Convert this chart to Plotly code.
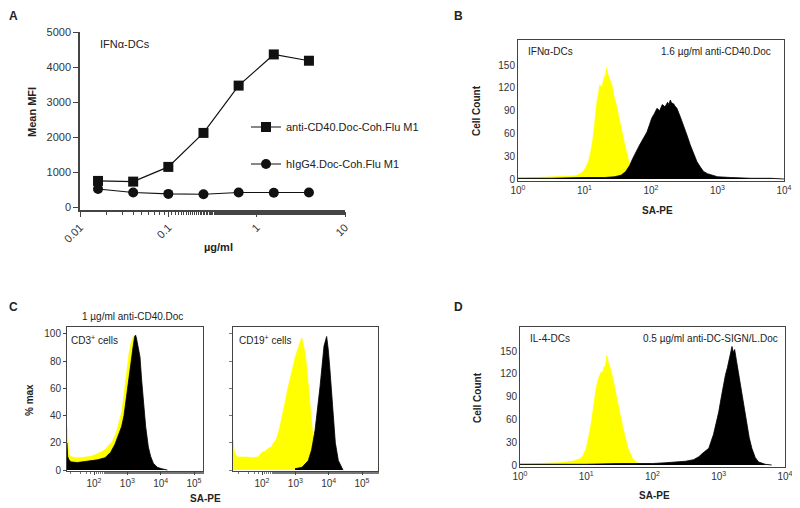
import plotly.graph_objects as go

# The page body has an 8px default margin, so the figure is drawn 8px in from
# the top-left corner; size it to fill the rest of the 800x508 window.
PAGE_OFF = 8
W, H = 800 - PAGE_OFF, 508 - PAGE_OFF
FONT = "Liberation Sans, Arial, sans-serif"
TXT = "#222222"


def fx(p):
    return (p - PAGE_OFF) / W


def fy(p):
    return 1 - (p - PAGE_OFF) / H


# ---------------- Panel A: titration ----------------
conc_ug_ml = [0.016, 0.04, 0.1, 0.25, 0.625, 1.5625, 3.906]
mfi_anti_cd40 = [750, 730, 1150, 2120, 3470, 4360, 4180]
mfi_higg4 = [520, 420, 380, 370, 420, 410, 420]
a_xtick_vals = [0.01, 0.1, 1, 10]
a_xtick_text = ["0.01", "0.1", "1", "10"]
a_ytick_vals = [0, 1000, 2000, 3000, 4000, 5000]

# ---------------- Panel B: IFNa-DCs histograms (log10 SA-PE, cell count) ----------------
b_yel_log = [0.0, 0.3, 0.5, 0.7, 0.85, 0.92, 0.98, 1.02, 1.06, 1.10, 1.13, 1.16, 1.18, 1.21, 1.23,
             1.26, 1.28, 1.30, 1.31, 1.33, 1.35, 1.37, 1.39, 1.41, 1.44, 1.48, 1.52, 1.56, 1.60,
             1.63, 1.66, 1.68, 1.72, 1.76, 1.80, 1.90, 2.00]
b_yel_cnt = [1, 2, 2, 3, 4, 6, 10, 15, 23, 38, 54, 78, 97, 112, 124,
             120, 130, 135, 128, 146, 138, 134, 130, 124, 110, 97, 80, 62, 47,
             36, 25, 18, 10, 5, 2, 1, 0]
b_blk_log = [0.0, 0.5, 1.0, 1.3, 1.45, 1.55, 1.62, 1.68, 1.72, 1.76, 1.80, 1.83, 1.88, 1.94, 1.98,
             2.01, 2.05, 2.09, 2.13, 2.17, 2.21, 2.25, 2.27, 2.29, 2.31, 2.34, 2.36, 2.39, 2.44,
             2.49, 2.54, 2.59, 2.64, 2.69, 2.74, 2.79, 2.85, 2.92, 3.00, 3.20, 3.50, 3.80, 4.00]
b_blk_cnt = [1, 1, 2, 2, 3, 5, 10, 18, 26, 34, 40, 45, 53, 62, 72,
             80, 86, 93, 90, 98, 95, 101, 98, 104, 100, 99, 96, 93, 82,
             71, 58, 45, 33, 23, 16, 10, 7, 5, 3, 2, 1, 1, 0]

# ---------------- Panel C: % max histograms ----------------
c3_yel_log = [1.19, 1.21, 1.24, 1.30, 1.45, 1.60, 1.75, 1.90, 2.05, 2.20, 2.33, 2.45, 2.55, 2.63,
              2.70, 2.76, 2.83, 2.90, 2.98, 3.05, 3.11, 3.17, 3.20, 3.25, 3.30, 3.40, 3.50, 3.60,
              3.70, 3.80]
c3_yel_pct = [32, 22, 12, 10, 9, 9, 9.5, 10, 11.5, 13, 15, 18, 21, 25,
              30, 36, 42, 55, 73, 85, 93, 98, 99, 95, 80, 60, 35, 15,
              5, 1]
c3_blk_log = [1.19, 1.21, 1.24, 1.30, 1.50, 1.70, 1.90, 2.10, 2.33, 2.50, 2.63, 2.75, 2.83, 2.90,
              2.98, 3.05, 3.12, 3.17, 3.22, 3.25, 3.28, 3.33, 3.38, 3.43, 3.48, 3.55, 3.63, 3.70,
              3.78, 3.90, 4.03, 4.20]
c3_blk_pct = [20, 10, 8, 6, 5.5, 6, 6.5, 7.5, 9, 13, 19, 26, 32, 40,
              56, 70, 83, 90, 98, 99, 96, 90, 83, 66, 49, 32, 17, 10,
              5, 2, 1, 0]
c19_yel_log = [1.13, 1.16, 1.20, 1.28, 1.50, 1.70, 1.88, 2.00, 2.10, 2.20, 2.29, 2.35, 2.42, 2.49,
               2.55, 2.62, 2.69, 2.76, 2.83, 2.89, 2.95, 3.00, 3.04, 3.10, 3.15, 3.19, 3.22, 3.26,
               3.29, 3.34, 3.39, 3.44, 3.49, 3.54, 3.59, 3.64, 3.69]
c19_yel_pct = [22, 15, 11, 9.5, 9.5, 9, 9.5, 13, 14, 16, 17, 20, 22, 27,
               33, 40, 49, 58, 66, 73, 78, 83, 86, 91, 95, 97, 94, 90,
               86, 75, 61, 45, 29, 16, 7, 3, 0]
c19_blk_log = [2.99, 3.20, 3.39, 3.49, 3.59, 3.67, 3.74, 3.80, 3.86, 3.94, 3.99, 4.04, 4.09, 4.14,
               4.20, 4.29, 4.36, 4.43]
c19_blk_pct = [1, 2, 7, 15, 29, 45, 61, 76, 91, 98, 88, 73, 55, 37,
               20, 7, 3, 0]

# ---------------- Panel D: IL-4-DCs histograms ----------------
d_yel_log = [0.0, 0.4, 0.6, 0.8, 0.9, 0.95, 1.0, 1.04, 1.08, 1.12, 1.15, 1.19, 1.23, 1.25, 1.27,
             1.29, 1.31, 1.33, 1.36, 1.40, 1.44, 1.48, 1.53, 1.58, 1.63, 1.70, 1.75, 1.80, 1.90]
d_yel_cnt = [1, 2, 3, 5, 8, 12, 22, 38, 57, 82, 101, 115, 123, 121, 130,
             128, 144, 136, 128, 114, 96, 79, 58, 39, 22, 8, 4, 2, 0]
d_blk_log = [0.0, 0.5, 1.0, 1.5, 2.0, 2.2, 2.37, 2.5, 2.62, 2.70, 2.75, 2.80, 2.85, 2.88, 2.92,
             2.96, 3.00, 3.04, 3.07, 3.10, 3.13, 3.15, 3.17, 3.19, 3.20, 3.22, 3.24, 3.27, 3.31,
             3.35, 3.38, 3.42, 3.46, 3.50, 3.55, 3.60, 3.70, 3.80]
d_blk_cnt = [1, 1, 1, 2, 2, 3, 4, 5, 7, 11, 15, 18, 22, 30, 40,
             55, 70, 90, 105, 118, 128, 136, 145, 150, 156, 148, 152, 136, 115,
             92, 75, 53, 36, 22, 10, 4, 1, 0]

hist_log_ticks = [1, 10, 100, 1000, 10000]
hist_log_text = ["10<sup>0</sup>", "10<sup>1</sup>", "10<sup>2</sup>", "10<sup>3</sup>", "10<sup>4</sup>"]
count_ticks = [0, 30, 60, 90, 120, 150]
c_ticks = [100, 1000, 10000, 100000]
c_text = ["10<sup>2</sup>", "10<sup>3</sup>", "10<sup>4</sup>", "10<sup>5</sup>"]
pct_ticks = [0, 20, 40, 60, 80, 100]

YELLOW = "#FFFF00"
BLACK = "#000000"

fig = go.Figure()


def add_hist(lg, vals, color, xa, ya):
    fig.add_trace(go.Scatter(
        x=[10 ** v for v in lg], y=vals, mode="lines", fill="tozeroy",
        line=dict(color=color, width=0.8), fillcolor=color,
        xaxis=xa, yaxis=ya, showlegend=False, hoverinfo="skip"))


# Panel A traces
fig.add_trace(go.Scatter(x=conc_ug_ml, y=mfi_anti_cd40, mode="lines+markers",
                         name="anti-CD40.Doc-Coh.Flu M1",
                         line=dict(color="#111111", width=1.2),
                         marker=dict(symbol="square", size=10, color="#111111"),
                         xaxis="x", yaxis="y", legend="legend"))
fig.add_trace(go.Scatter(x=conc_ug_ml, y=mfi_higg4, mode="lines+markers",
                         name="hIgG4.Doc-Coh.Flu M1",
                         line=dict(color="#111111", width=1.2),
                         marker=dict(symbol="circle", size=10, color="#111111"),
                         xaxis="x", yaxis="y", legend="legend2"))

add_hist(b_yel_log, b_yel_cnt, YELLOW, "x2", "y2")
add_hist(b_blk_log, b_blk_cnt, BLACK, "x2", "y2")
add_hist(c3_yel_log, c3_yel_pct, YELLOW, "x3", "y3")
add_hist(c3_blk_log, c3_blk_pct, BLACK, "x3", "y3")
add_hist(c19_yel_log, c19_yel_pct, YELLOW, "x4", "y4")
add_hist(c19_blk_log, c19_blk_pct, BLACK, "x4", "y4")
add_hist(d_yel_log, d_yel_cnt, YELLOW, "x5", "y5")
add_hist(d_blk_log, d_blk_cnt, BLACK, "x5", "y5")

tickfont = dict(family=FONT, size=10, color="#333333")
tickfont_a = dict(family=FONT, size=11, color="#333333")
AX = "#444444"

box_common = dict(showline=True, linecolor=AX, linewidth=1, mirror=True, automargin=False,
                  showgrid=False, zeroline=False, tickfont=tickfont)

layout = dict(
    template="none",
    width=W, height=H, margin=dict(l=0, r=0, t=0, b=0, autoexpand=False),
    paper_bgcolor="white", plot_bgcolor="white",
    font=dict(family=FONT, size=10, color=TXT),
    # Panel A
    xaxis=dict(domain=[fx(80), fx(345)], type="log", range=[-2, 1], anchor="y",
               tickvals=a_xtick_vals, ticktext=a_xtick_text, tickangle=-45,
               ticks="outside", ticklen=5, tickcolor=AX, showline=True, linecolor=AX,
               linewidth=1.5, showgrid=False, zeroline=False, tickfont=tickfont_a,
               automargin=False,
               minor=dict(ticks="outside", ticklen=3, tickcolor=AX, showgrid=False)),
    yaxis=dict(domain=[fy(210), fy(32)], range=[-80, 5000], anchor="x",
               tickvals=a_ytick_vals, ticks="outside", ticklen=5, tickcolor=AX,
               showline=True, linecolor=AX, linewidth=1.5, showgrid=False,
               automargin=False, zeroline=False, tickfont=tickfont_a),
    # Panel B
    xaxis2=dict(domain=[fx(518), fx(784)], type="log", range=[0, 4], anchor="y2",
                tickvals=hist_log_ticks, ticktext=hist_log_text, ticks="", **box_common),
    yaxis2=dict(domain=[fy(181), fy(40)], range=[-2.6, 183], anchor="x2",
                tickvals=count_ticks, ticks="", **box_common),
    # Panel C left
    xaxis3=dict(domain=[fx(67), fx(203)], type="log", range=[1.19, 5.27], anchor="y3",
                tickvals=c_ticks, ticktext=c_text, ticks="outside", ticklen=3, tickcolor=AX,
                minor=dict(ticks="outside", ticklen=2, tickcolor="#777777", showgrid=False),
                **box_common),
    yaxis3=dict(domain=[fy(471), fy(327)], range=[-0.7, 105], anchor="x3",
                tickvals=pct_ticks, ticks="outside", ticklen=3, tickcolor=AX, **box_common),
    # Panel C right
    xaxis4=dict(domain=[fx(233), fx(378)], type="log", range=[1.13, 5.48], anchor="y4",
                tickvals=c_ticks, ticktext=c_text, ticks="outside", ticklen=3, tickcolor=AX,
                minor=dict(ticks="outside", ticklen=2, tickcolor="#777777", showgrid=False),
                **box_common),
    yaxis4=dict(domain=[fy(471), fy(327)], range=[-0.7, 105], anchor="x4",
                tickvals=pct_ticks, showticklabels=False, ticks="outside", ticklen=3,
                tickcolor="#777777", **box_common),
    # Panel D
    xaxis5=dict(domain=[fx(520), fx(785)], type="log", range=[0, 4], anchor="y5",
                tickvals=hist_log_ticks, ticktext=hist_log_text, ticks="", **box_common),
    yaxis5=dict(domain=[fy(467), fy(327)], range=[-2.6, 181.6], anchor="x5",
                tickvals=count_ticks, ticks="", **box_common),
    legend=dict(x=fx(246), y=fy(127), xanchor="left", yanchor="middle",
                bgcolor="rgba(0,0,0,0)", font=dict(family=FONT, size=11, color=TXT),
                itemwidth=30),
    legend2=dict(x=fx(246), y=fy(164), xanchor="left", yanchor="middle",
                 bgcolor="rgba(0,0,0,0)", font=dict(family=FONT, size=11, color=TXT),
                 itemwidth=30),
)
fig.update_layout(**layout)


def ann(text, x, y, size=10, bold=False, xanchor="center", angle=0, yanchor="middle"):
    fig.add_annotation(text=f"<b>{text}</b>" if bold else text,
                       x=fx(x), y=fy(y), xref="paper", yref="paper",
                       showarrow=False, xanchor=xanchor, yanchor=yanchor,
                       textangle=angle, borderpad=0,
                       font=dict(family=FONT, size=size, color=TXT))


# panel letters (kept inside the drawable area)
ann("A", 8, 8, size=12, bold=True, xanchor="left", yanchor="top")
ann("B", 458, 8, size=12, bold=True, yanchor="top")
ann("C", 8, 307, size=12, bold=True, xanchor="left")
ann("D", 458, 307, size=12, bold=True)

# Panel A labels
ann("IFNα-DCs", 99, 44, size=11, xanchor="left")
ann("Mean MFI", 32, 112, size=11, bold=True, angle=-90)
ann("µg/ml", 218, 247, size=11, bold=True)

# Panel B labels
ann("IFNα-DCs", 527, 52, xanchor="left")
ann("1.6 µg/ml anti-CD40.Doc", 772, 52, xanchor="right")
ann("Cell Count", 477, 110, bold=True, angle=-90)
ann("SA-PE", 657, 210, bold=True)

# Panel C labels
ann("1 µg/ml anti-CD40.Doc", 133, 316)
ann("CD3<sup>+</sup> cells", 70, 340, xanchor="left")
ann("CD19<sup>+</sup> cells", 238, 340, xanchor="left")
ann("% max", 29, 400, bold=True, angle=-90)
ann("SA-PE", 205, 498, bold=True)

# Panel D labels
ann("IL-4-DCs", 529, 338, xanchor="left")
ann("0.5 µg/ml anti-DC-SIGN/L.Doc", 779, 338, xanchor="right")
ann("Cell Count", 477, 397, bold=True, angle=-90)
ann("SA-PE", 654, 495, bold=True)

fig.write_html("out.html")
